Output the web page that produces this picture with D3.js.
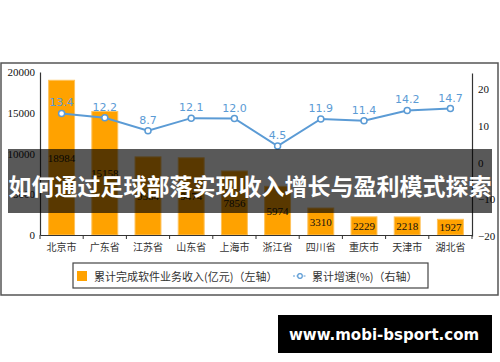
<!DOCTYPE html>
<html lang="zh">
<head>
<meta charset="UTF-8">
<title>软件业务收入</title>
<script src="https://d3js.org/d3.v7.min.js"></script>
<style>
  body { margin: 0; background: #fff; }
  svg { display: block; }
  .num { font-family: "Liberation Serif", serif; font-size: 11px; fill: #111; }
  .cat { font-family: "Noto Sans CJK SC", sans-serif; font-size: 10px; fill: #333; }
</style>
</head>
<body>
<svg id="chart" width="500" height="362"></svg>
<script>
// data
const cities = ["北京市", "广东省", "江苏省", "山东省", "上海市", "浙江省", "四川省", "重庆市", "天津市", "湖北省"];
const revenue = [18984, 15158, 9584, 9474, 7856, 5974, 3310, 2229, 2218, 1927];
const growth = [13.4, 12.2, 8.7, 12.1, 12.0, 4.5, 11.9, 11.4, 14.2, 14.7];
const leftTicks = [0, 5000, 10000, 15000, 20000];
const rightTicks = [-20, -10, 0, 10, 20];

const orange = "#ffa200";
const blue = "#5b9bd5";

const svg = d3.select("#chart");

// outer frame
svg.append("rect")
  .attr("x", 1).attr("y", 63).attr("width", 497).attr("height", 232)
  .attr("fill", "none").attr("stroke", "#555").attr("stroke-width", 1.5);

const x = d3.scaleBand().domain(cities).range([40, 472]).paddingInner(0.4).paddingOuter(0.2);
const yL = d3.scaleLinear().domain([0, 20000]).range([235, 72]);
const yR = d3.scaleLinear().domain([-20, 24.4]).range([236, 73]);

// bars
svg.selectAll(".bar")
  .data(revenue)
  .enter().append("rect")
  .attr("class", "bar")
  .attr("x", (d, i) => x(cities[i]))
  .attr("y", d => yL(d))
  .attr("width", x.bandwidth())
  .attr("height", d => yL(0) - yL(d))
  .attr("fill", orange)
  .attr("stroke", "#ffc35c")
  .attr("stroke-width", 1);

svg.selectAll(".barlab")
  .data(revenue)
  .enter().append("text")
  .attr("class", "num")
  .attr("x", (d, i) => x(cities[i]) + x.bandwidth() / 2)
  .attr("y", d => (yL(d) + yL(0)) / 2)
  .attr("text-anchor", "middle")
  .attr("dominant-baseline", "central")
  .text(d => d);

// left axis
const gL = svg.append("g").attr("transform", "translate(40,0)")
  .call(d3.axisLeft(yL).tickValues(leftTicks).tickSize(0).tickPadding(5).tickFormat(d3.format("d")));
gL.select(".domain").attr("stroke", "#333").attr("stroke-width", 1.2);
gL.selectAll("text").attr("class", "num").attr("font-size", null).attr("font-family", null);

// right axis
const gR = svg.append("g").attr("transform", "translate(472,0)")
  .call(d3.axisRight(yR).tickValues(rightTicks).tickSize(0).tickPadding(6));
gR.select(".domain").attr("stroke", "#333").attr("stroke-width", 1.2);
gR.selectAll("text").attr("class", "num").attr("font-size", null).attr("font-family", null);

// bottom axis
const gX = svg.append("g").attr("transform", "translate(0,235)")
  .call(d3.axisBottom(x).tickSize(0).tickPadding(9));
gX.select(".domain").attr("stroke", "#333").attr("stroke-width", 1.2);
gX.selectAll("text").attr("class", "cat").attr("font-size", null).attr("font-family", null);
gX.selectAll(".sep")
  .data(d3.range(cities.length + 1))
  .enter().append("line")
  .attr("x1", i => 40 + i * x.step()).attr("x2", i => 40 + i * x.step())
  .attr("y1", 0).attr("y2", 4)
  .attr("stroke", "#333");

// growth line
const cx = (d, i) => x(cities[i]) + x.bandwidth() / 2;
const line = d3.line().x(cx).y(d => yR(d));
svg.append("path")
  .datum(growth)
  .attr("d", line)
  .attr("fill", "none")
  .attr("stroke", blue)
  .attr("stroke-width", 2);

svg.selectAll(".pt")
  .data(growth)
  .enter().append("circle")
  .attr("cx", cx)
  .attr("cy", d => yR(d))
  .attr("r", 3)
  .attr("fill", "#fff")
  .attr("stroke", blue)
  .attr("stroke-width", 1.5);

svg.selectAll(".ptlab")
  .data(growth)
  .enter().append("text")
  .attr("x", cx)
  .attr("y", d => yR(d) - 7)
  .attr("text-anchor", "middle")
  .attr("font-family", "DejaVu Sans, sans-serif")
  .attr("font-size", 11)
  .attr("fill", blue)
  .text(d => d.toFixed(1));

// legend
const lg = svg.append("g");
lg.append("rect").attr("x", 73).attr("y", 263).attr("width", 355).attr("height", 25)
  .attr("fill", "#fff").attr("stroke", "#444").attr("stroke-width", 1.2);
lg.append("rect").attr("x", 77).attr("y", 271).attr("width", 10).attr("height", 10).attr("fill", orange);
lg.append("text").attr("x", 94).attr("y", 276).attr("dominant-baseline", "central")
  .attr("font-family", "Noto Sans CJK SC, sans-serif").attr("font-size", 11).attr("fill", "#333")
  .text("累计完成软件业务收入(亿元)（左轴）");
lg.append("line").attr("x1", 293).attr("x2", 307).attr("y1", 276).attr("y2", 276)
  .attr("stroke", blue).attr("stroke-width", 1.2).attr("stroke-dasharray", "2,1.5");
lg.append("circle").attr("cx", 300).attr("cy", 276).attr("r", 2.3)
  .attr("fill", "#fff").attr("stroke", blue).attr("stroke-width", 1.2);
lg.append("text").attr("x", 312).attr("y", 276).attr("dominant-baseline", "central")
  .attr("font-family", "Noto Sans CJK SC, sans-serif").attr("font-size", 11).attr("fill", "#333")
  .text("累计增速(%)（右轴）");

// title banner over the chart
svg.append("rect").attr("x", 8).attr("y", 149).attr("width", 484).attr("height", 64)
  .attr("fill", "rgba(0,0,0,0.65)");
svg.append("text").attr("x", 250).attr("y", 185)
  .attr("text-anchor", "middle").attr("dominant-baseline", "central")
  .attr("font-family", "Noto Sans CJK SC, sans-serif").attr("font-weight", "bold")
  .attr("font-size", 23).attr("fill", "#fff")
  .text("如何通过足球部落实现收入增长与盈利模式探索");

// watermark
svg.append("rect").attr("x", 278).attr("y", 315).attr("width", 214).attr("height", 38).attr("fill", "#000");
svg.append("text").attr("x", 384).attr("y", 335)
  .attr("text-anchor", "middle").attr("dominant-baseline", "central")
  .attr("font-family", "DejaVu Sans, sans-serif").attr("font-weight", "bold")
  .attr("font-size", 15).attr("fill", "#fff")
  .text("www.mobi-bsport.com");
</script>
</body>
</html>
